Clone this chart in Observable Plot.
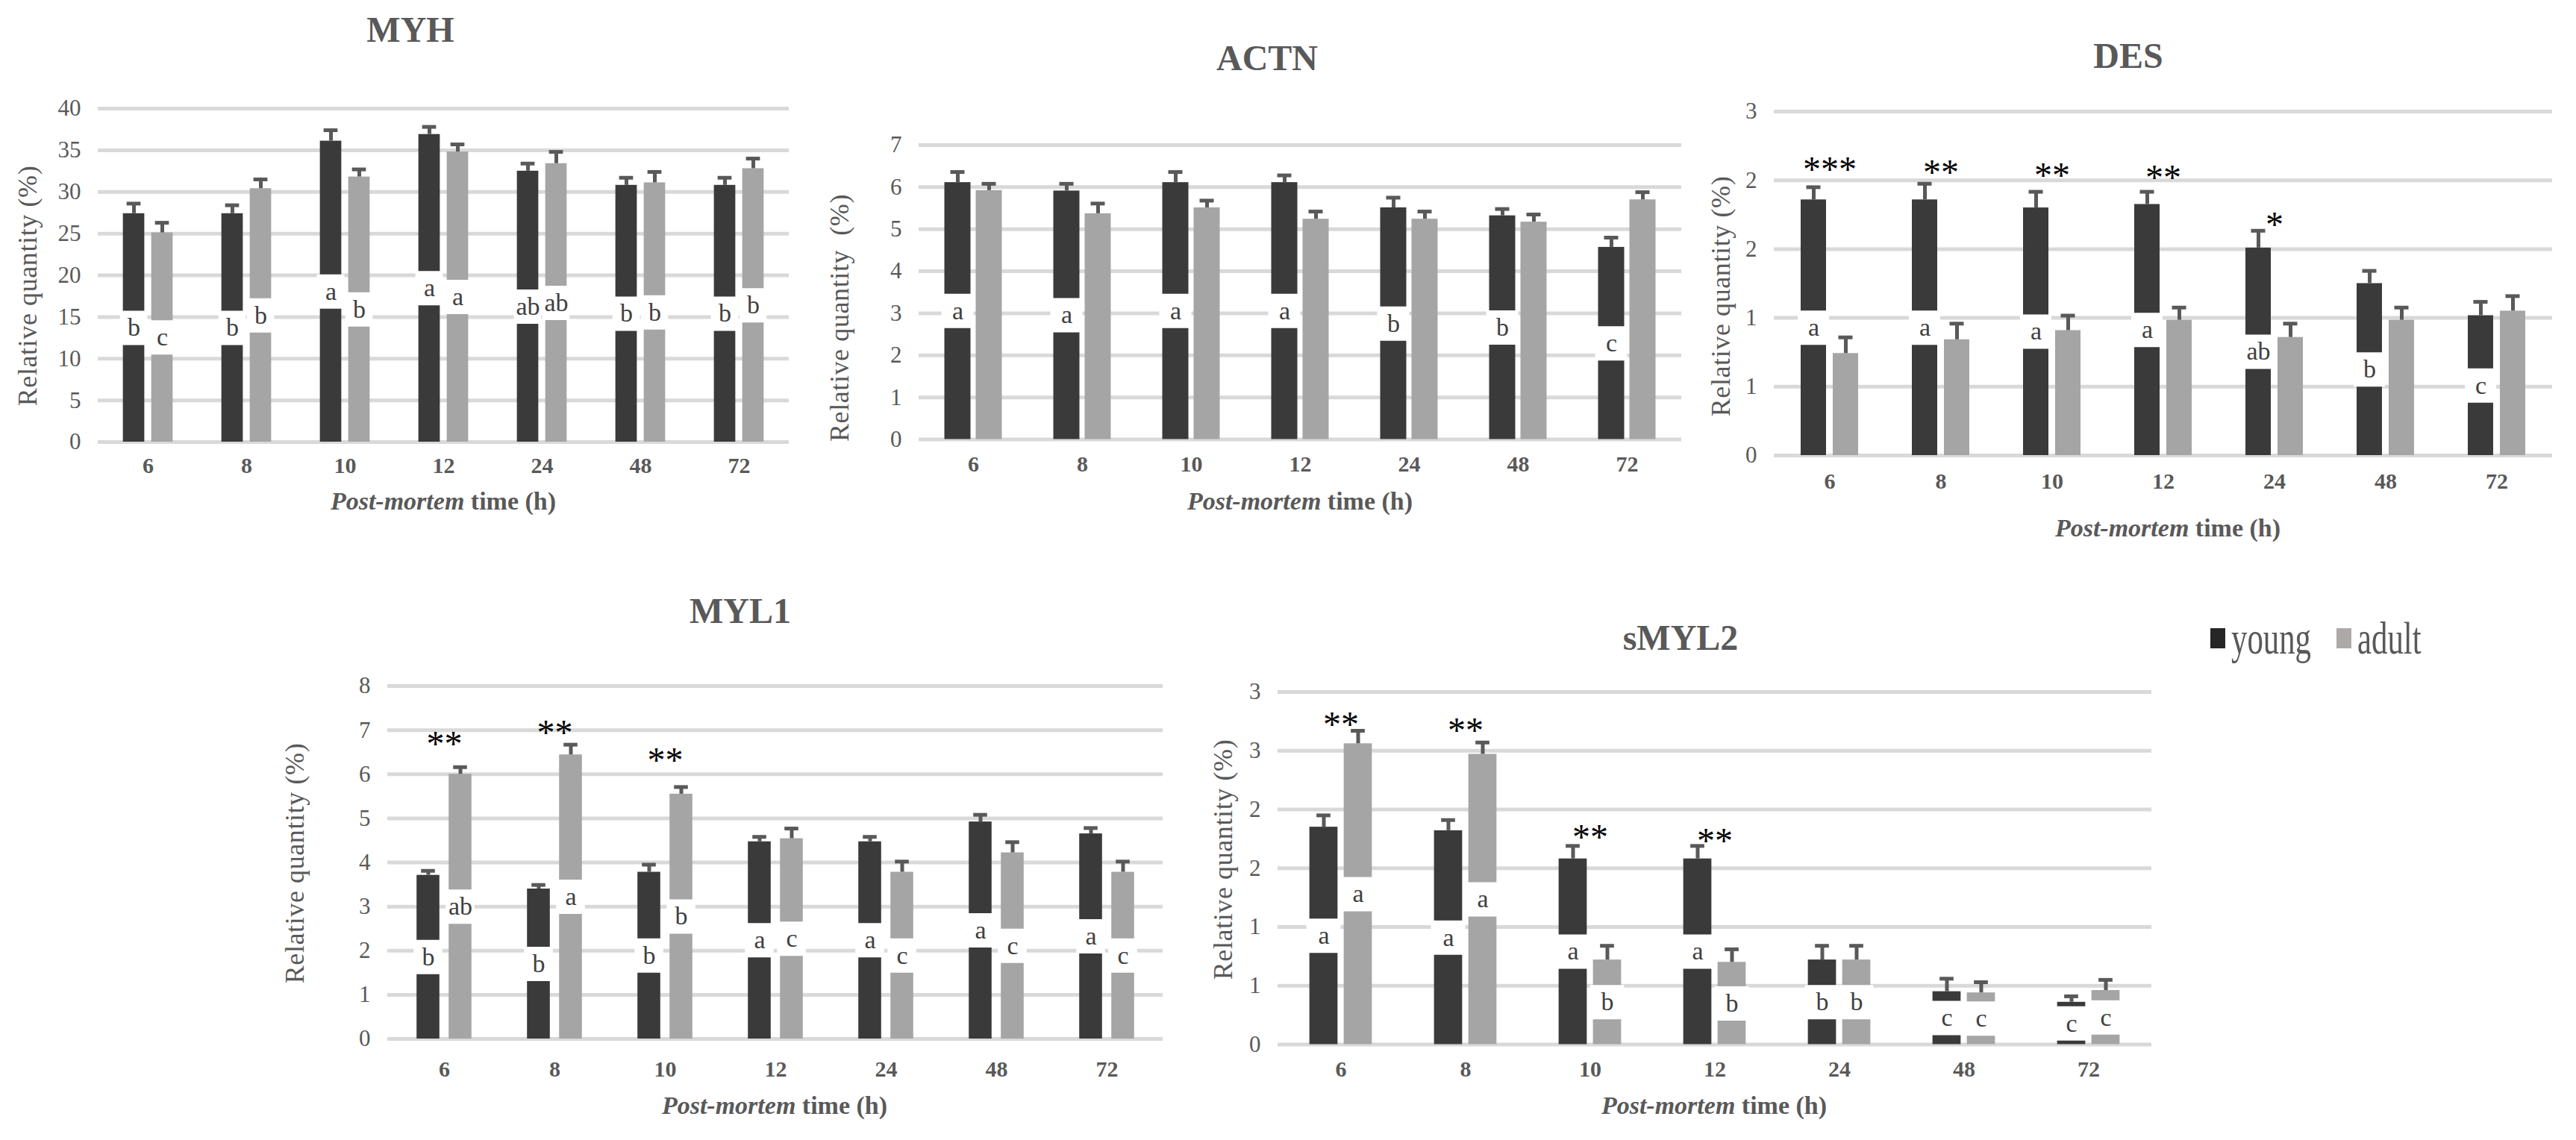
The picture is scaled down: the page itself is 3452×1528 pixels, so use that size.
<!DOCTYPE html>
<html><head><meta charset="utf-8">
<script src="https://cdn.jsdelivr.net/npm/d3@7"></script>
<script src="https://cdn.jsdelivr.net/npm/@observablehq/plot@0.6"></script>
<style>
body{margin:0;background:#fff;}
#root{position:relative;width:3452px;height:1528px;overflow:hidden;background:#fff;font-family:"Liberation Serif","Times New Roman",serif;color:#595959;}
.abs{position:absolute;line-height:1;white-space:pre;}
.title{font-weight:bold;font-size:48px;transform:translate(-50%,-50%);}
.ytitle{font-size:36px;letter-spacing:0.6px;transform:translate(-50%,-50%) rotate(-90deg);}
.xtitle{font-weight:bold;font-size:34px;transform:translate(-50%,-50%);}
.legtxt{font-size:62px;line-height:62px;transform:scaleX(0.69);transform-origin:left top;}
</style></head>
<body><div id="root"></div>
<script>
const times = ["6","8","10","12","24","48","72"];

// MYH
const myhYoung = [27.4,27.4,36.1,36.9,32.5,30.8,30.8];
const myhYoungSE = [1.2,1.0,1.3,0.9,0.9,0.9,0.9];
const myhAdult = [25.1,30.4,31.8,34.8,33.4,31.1,32.8];
const myhAdultSE = [1.2,1.1,0.9,0.9,1.4,1.3,1.2];
const myhYoungLetters = ["b","b","a","a","ab","b","b"];
const myhAdultLetters = ["c","b","b","a","ab","b","b"];
const myhStars = ["","","","","","",""];
const myhStarY = [0,0,0,0,0,0,0];
const myhTicks = [0,5,10,15,20,25,30,35,40];

// ACTN
const actnYoung = [6.11,5.91,6.11,6.11,5.51,5.32,4.57];
const actnYoungSE = [0.25,0.17,0.25,0.17,0.24,0.16,0.23];
const actnAdult = [5.92,5.37,5.51,5.24,5.24,5.17,5.70];
const actnAdultSE = [0.16,0.24,0.17,0.18,0.18,0.18,0.18];
const actnYoungLetters = ["a","a","a","a","b","b","c"];
const actnAdultLetters = ["","","","","","",""];
const actnStars = ["","","","","","",""];
const actnStarY = [0,0,0,0,0,0,0];
const actnTicks = [0,1,2,3,4,5,6,7];

// DES
const desYoung = [2.23,2.23,2.16,2.19,1.81,1.50,1.22];
const desYoungSE = [0.11,0.14,0.14,0.11,0.15,0.11,0.12];
const desAdult = [0.89,1.01,1.09,1.18,1.03,1.18,1.26];
const desAdultSE = [0.14,0.14,0.13,0.11,0.12,0.11,0.13];
const desYoungLetters = ["a","a","a","a","ab","b","c"];
const desAdultLetters = ["","","","","","",""];
const desStars = ["***","**","**","**","*","",""];
const desStarY = [2.56,2.54,2.51,2.49,2.08,0,0];
const desTicks = [0,0.6,1.2,1.8,2.4,3];

// MYL1
const myl1Young = [3.71,3.40,3.78,4.47,4.47,4.92,4.65];
const myl1YoungSE = [0.10,0.09,0.17,0.11,0.11,0.16,0.13];
const myl1Adult = [6.00,6.44,5.55,4.54,3.78,4.22,3.78];
const myl1AdultSE = [0.16,0.23,0.16,0.23,0.24,0.24,0.24];
const myl1YoungLetters = ["b","b","b","a","a","a","a"];
const myl1AdultLetters = ["ab","a","b","c","c","c","c"];
const myl1Stars = ["**","**","**","","","",""];
const myl1StarY = [6.87,7.11,6.50,0,0,0,0];
const myl1Ticks = [0,1,2,3,4,5,6,7,8];

// sMYL2
const smyl2Young = [1.85,1.82,1.58,1.58,0.72,0.45,0.36];
const smyl2YoungSE = [0.10,0.09,0.11,0.11,0.12,0.11,0.05];
const smyl2Adult = [2.56,2.47,0.72,0.70,0.72,0.44,0.46];
const smyl2AdultSE = [0.11,0.10,0.12,0.11,0.12,0.09,0.09];
const smyl2YoungLetters = ["a","a","a","a","b","c","c"];
const smyl2AdultLetters = ["a","a","b","b","b","c","c"];
const smyl2Stars = ["**","**","**","**","","",""];
const smyl2StarY = [2.79,2.74,1.83,1.80,0,0,0];
const smyl2Ticks = [0,0.5,1,1.5,2,2.5,3];

const seriesNames = ["young","adult"];
const seriesColors = ["#3a3a3a","#a5a5a5"];
const legendColors = ["#262626","#ada9a9"];

const panels = [
  {title:"MYH", young:myhYoung, youngSE:myhYoungSE, adult:myhAdult, adultSE:myhAdultSE, yl:myhYoungLetters, al:myhAdultLetters, stars:myhStars, starY:myhStarY, ticks:myhTicks, ylabel:"Relative quantity (%)",
   L:131, R:1057, T:145, B:592, bw:29, gap:9, xtp:20, tp:[550,40], yp:[37,383], xp:[594,672]},
  {title:"ACTN", young:actnYoung, youngSE:actnYoungSE, adult:actnAdult, adultSE:actnAdultSE, yl:actnYoungLetters, al:actnAdultLetters, stars:actnStars, starY:actnStarY, ticks:actnTicks, ylabel:"Relative quantity  (%)",
   L:1231, R:2253, T:194, B:588.5, bw:35, gap:7, xtp:22, tp:[1698,78], yp:[1125,426], xp:[1742,672]},
  {title:"DES", young:desYoung, youngSE:desYoungSE, adult:desAdult, adultSE:desAdultSE, yl:desYoungLetters, al:desAdultLetters, stars:desStars, starY:desStarY, ticks:desTicks, ylabel:"Relative quantity (%)",
   L:2377, R:3420, T:149, B:610, bw:34, gap:9, xtp:23, tp:[2852,75], yp:[2306,397], xp:[2905,708]},
  {title:"MYL1", young:myl1Young, youngSE:myl1YoungSE, adult:myl1Adult, adultSE:myl1AdultSE, yl:myl1YoungLetters, al:myl1AdultLetters, stars:myl1Stars, starY:myl1StarY, ticks:myl1Ticks, ylabel:"Relative quantity (%)",
   L:519, R:1558, T:919, B:1392, bw:31, gap:12, xtp:29, tp:[992,819], yp:[395,1157], xp:[1038,1482]},
  {title:"sMYL2", young:smyl2Young, youngSE:smyl2YoungSE, adult:smyl2Adult, adultSE:smyl2AdultSE, yl:smyl2YoungLetters, al:smyl2AdultLetters, stars:smyl2Stars, starY:smyl2StarY, ticks:smyl2Ticks, ylabel:"Relative quantity (%)",
   L:1712, R:2883, T:926.5, B:1399, bw:38, gap:8, xtp:22, tp:[2252,855], yp:[1639,1152], xp:[2297,1482]}
];

const root = document.getElementById("root");
function addDiv(cls, html, x, y) {
  const d = document.createElement("div");
  d.className = "abs " + cls;
  d.innerHTML = html;
  d.style.left = x + "px"; d.style.top = y + "px";
  root.appendChild(d);
  return d;
}

const FONT = '"Liberation Serif","Times New Roman",serif';

for (const p of panels) {
  const ml = 90, mr = 12, mt = 30, mb = 60;
  const W = p.R - p.L + ml + mr, H = p.B - p.T + mt + mb;
  const step = (p.R - p.L) / times.length;
  const ymax = p.ticks[p.ticks.length - 1];
  const series = [
    {vals:p.young, se:p.youngSE, letters:p.yl, color:seriesColors[0], sign:-1},
    {vals:p.adult, se:p.adultSE, letters:p.al, color:seriesColors[1], sign:1}
  ];
  const marks = [Plot.ruleY(p.ticks, {stroke:"#d9d9d9", strokeWidth:5})];
  const rowsBy = series.map(s => times.map((t,i) => ({time:t, value:s.vals[i], err:s.vals[i]+s.se[i], letter:s.letters[i]})));
  series.forEach((s, k) => {
    const c = step/2 + s.sign*(p.gap/2 + p.bw/2);
    const d = rowsBy[k];
    marks.push(Plot.barY(d, {x:"time", y:"value", fill:s.color, insetLeft:c - p.bw/2, insetRight:step - c - p.bw/2}));
    marks.push(Plot.ruleX(d, {x:"time", y1:"value", y2:"err", dx:c - step/2, stroke:"#595959", strokeWidth:5}));
    marks.push(Plot.tickY(d, {x:"time", y:"err", insetLeft:c - 9.5, insetRight:step - c - 9.5, stroke:"#595959", strokeWidth:5}));
  });
  series.forEach((s, k) => {
    const c = step/2 + s.sign*(p.gap/2 + p.bw/2);
    const dl = rowsBy[k].filter(r => r.letter);
    marks.push(Plot.tickY(dl, {x:"time", y:r => r.value/2, insetLeft:c - p.bw/2 - 4, insetRight:step - c - p.bw/2 - 4, stroke:"white", strokeWidth:46}));
    marks.push(Plot.text(dl, {x:"time", y:r => r.value/2, text:"letter", dx:c - step/2, fill:"#404040", fontSize:34, fontFamily:FONT}));
  });
  const starRows = times.map((t,i) => ({time:t, s:p.stars[i], y:p.starY[i]})).filter(r => r.s);
  marks.push(Plot.text(starRows, {x:"time", y:"y", text:"s", fill:"black", fontSize:48, dy:11, fontFamily:FONT}));

  const svg = Plot.plot({
    width:W, height:H, marginLeft:ml, marginRight:mr, marginTop:mt, marginBottom:mb,
    x:{type:"band", domain:times, padding:0, tickSize:0, tickPadding:p.xtp, label:null},
    y:{domain:[0,ymax], ticks:p.ticks, tickFormat:d => String(Math.round(d)), tickSize:0, tickPadding:23, label:null},
    style:{fontFamily:FONT, fontSize:"31px", color:"#595959", background:"transparent", overflow:"visible"},
    marks
  });
  svg.style.position = "absolute";
  svg.style.left = (p.L - ml) + "px";
  svg.style.top = (p.T - mt) + "px";
  svg.querySelectorAll('[aria-label^="x-axis"] text').forEach(t => { t.style.fontWeight = "bold"; t.style.fontSize = "30px"; });
  root.appendChild(svg);

  addDiv("title", p.title, p.tp[0], p.tp[1]);
  addDiv("ytitle", p.ylabel, p.yp[0], p.yp[1]);
  addDiv("xtitle", "<i>Post-mortem</i> time (h)", p.xp[0], p.xp[1]);
}

// legend
const legX = [2962, 3131];
seriesNames.forEach((n, i) => {
  const sq = document.createElement("div");
  sq.style.cssText = `position:absolute;left:${legX[i]}px;top:842px;width:20px;height:27px;background:${legendColors[i]};`;
  root.appendChild(sq);
  addDiv("legtxt", n, legX[i] + 28, 824);
});
</script>
</body></html>
